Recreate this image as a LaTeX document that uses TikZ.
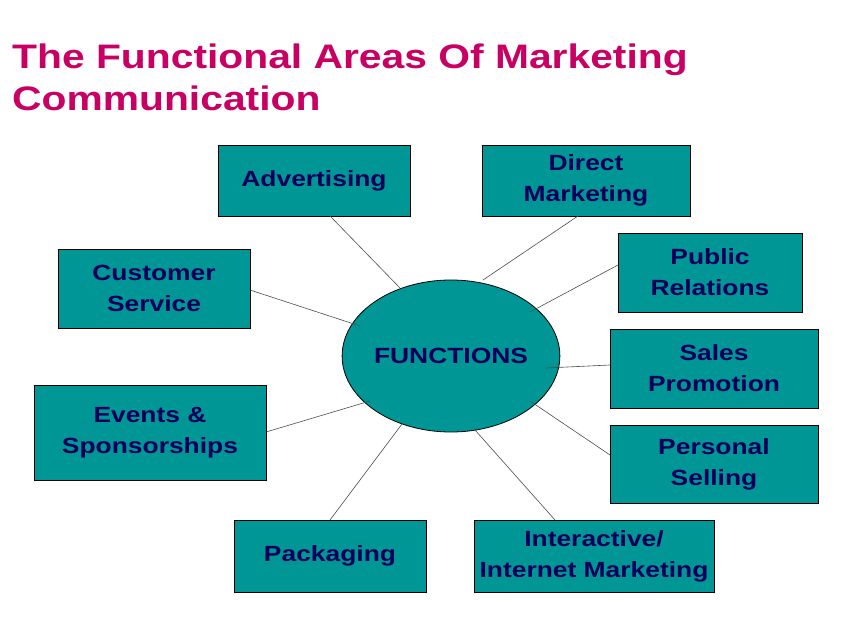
\documentclass[tikz,border=0pt]{standalone}
\usepackage{fontspec}
\setmainfont{Liberation Sans}[FakeStretch=1.2]
\usetikzlibrary{shapes.geometric}
\definecolor{teal1}{RGB}{0,150,150}
\definecolor{navy}{RGB}{0,0,90}
\definecolor{mag}{RGB}{200,0,100}
\begin{document}
\begin{tikzpicture}[x=1pt,y=-1pt,
  box/.style={draw=black,fill=teal1,line width=0.8pt,text=navy,font=\bfseries\fontsize{22}{31}\selectfont,align=center,inner sep=0pt},
  conn/.style={draw=black!70,line width=0.6pt}]
\useasboundingbox (0,0) rectangle (844,626);
\node[anchor=north west,text=mag,font=\bfseries\fontsize{34}{42}\selectfont,align=left,inner sep=0pt] (title) at (12,44) {The Functional Areas Of Marketing\\Communication};
\newcommand{\bx}[6]{\node[box,minimum width=#4-#2,minimum height=#5-#3] (#1) at ({(#2+#4)/2},{(#3+#5)/2}) {#6};}
\bx{adv}{218}{145}{410}{216}{Advertising}
\bx{dm}{482}{145}{690}{216}{Direct\\Marketing}
\bx{pr}{618}{233}{802}{312}{Public\\Relations}
\bx{cs}{58}{249}{250}{328}{Customer\\Service}
\bx{sp}{610}{329}{818}{408}{Sales\\Promotion}
\bx{ev}{34}{385}{266}{480}{Events \&\\Sponsorships}
\bx{ps}{610}{425}{818}{503}{Personal\\Selling}
\bx{pk}{234}{520}{426}{592}{Packaging}
\bx{ia}{474}{520}{714}{592}{Interactive/\\Internet Marketing}
\node[ellipse,draw=black,fill=teal1,line width=0.8pt,minimum width=194,minimum height=152,inner sep=0pt,text=navy,font=\bfseries\fontsize{22}{26}\selectfont] (fn) at (451,356) {FUNCTIONS};
\coordinate (a1) at (330,216); \coordinate (a2) at (400,288);
\draw[conn] (a1) -- (a2);
\coordinate (d1) at (578,216); \coordinate (d2) at (483,280);
\draw[conn] (d1) -- (d2);
\coordinate (p1) at (618,265); \coordinate (p2) at (530,312);
\draw[conn] (p1) -- (p2);
\coordinate (c1) at (250,290); \coordinate (c2) at (360,326);
\draw[conn] (c1) -- (c2);
\coordinate (s1) at (610,365); \coordinate (s2) at (546,368);
\draw[conn] (s1) -- (s2);
\coordinate (e1) at (266,432); \coordinate (e2) at (370,401);
\draw[conn] (e1) -- (e2);
\coordinate (q1) at (610,455); \coordinate (q2) at (530,401);
\draw[conn] (q1) -- (q2);
\coordinate (k1) at (330,520); \coordinate (k2) at (402,424);
\draw[conn] (k1) -- (k2);
\coordinate (i1) at (555,520); \coordinate (i2) at (475,430);
\draw[conn] (i1) -- (i2);
\end{tikzpicture}
\end{document}
